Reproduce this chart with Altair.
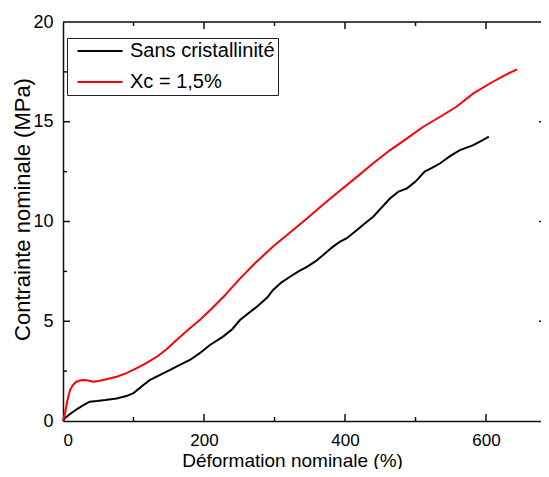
import altair as alt
import pandas as pd

# ---- data ----
black_x = [0, 3, 10, 20, 29, 38, 48, 60, 76, 90, 100, 114, 123, 137, 152, 165, 180, 194, 208,
           227, 240, 251, 263, 275, 290, 298, 310, 322, 334, 346, 358, 369, 383, 393, 402, 417,
           428, 440, 452, 464, 476, 488, 500, 513, 524, 535, 550, 563, 582, 594, 604]
black_y = [0, 0.15, 0.35, 0.6, 0.8, 0.97, 1.0, 1.05, 1.13, 1.25, 1.4, 1.8, 2.05, 2.3, 2.56, 2.8,
           3.06, 3.4, 3.8, 4.23, 4.6, 5.06, 5.4, 5.73, 6.2, 6.57, 6.95, 7.23, 7.5, 7.73, 8.0, 8.32,
           8.74, 8.99, 9.15, 9.57, 9.9, 10.24, 10.7, 11.16, 11.5, 11.66, 12.0, 12.5, 12.7, 12.92,
           13.3, 13.58, 13.83, 14.05, 14.25]

red_x = [0, 3, 6, 10, 14, 19, 25, 31, 37, 43, 50, 60, 76, 90, 104, 118, 133, 147, 161, 180, 194,
         210, 227, 250, 275, 298, 322, 346, 369, 393, 419, 440, 464, 488, 511, 535, 558, 582, 606,
         625, 644]
red_y = [0, 0.4, 1.0, 1.55, 1.8, 1.97, 2.04, 2.05, 2.02, 1.97, 2.0, 2.08, 2.22, 2.4, 2.64, 2.9,
         3.22, 3.6, 4.06, 4.65, 5.06, 5.6, 6.2, 7.1, 8.0, 8.75, 9.45, 10.15, 10.85, 11.55, 12.3,
         12.92, 13.58, 14.17, 14.75, 15.25, 15.75, 16.42, 16.93, 17.3, 17.63]

series_names = ["Sans cristallinité", "Xc = 1,5%"]
series_colors = ["#000000", "#ff0000"]

x_labels = [0, 200, 400, 600]
y_labels = [0, 5, 10, 15, 20]
x_major = [200, 400, 600]
x_minor = [100, 300, 500]
y_major = [5, 10, 15]
y_minor = [2.5, 7.5, 12.5, 17.5]

# ---- layout ----
W, H = 478, 399
X_MAX = 678
FONT = "Liberation Sans"
AX = "#111111"

df = pd.concat([
    pd.DataFrame({"x": black_x, "y": black_y, "s": series_names[0], "o": range(len(black_x))}),
    pd.DataFrame({"x": red_x, "y": red_y, "s": series_names[1], "o": range(len(red_x))}),
])

xs = alt.Scale(domain=[0, X_MAX], nice=False, zero=False)
ys = alt.Scale(domain=[0, 20], nice=False, zero=False)

lines = alt.Chart(df).mark_line(strokeWidth=2).encode(
    x=alt.X("x:Q", scale=xs, axis=alt.Axis(
        values=x_labels, title="Déformation nominale (%)", grid=False, ticks=False, tickSize=0,
        labelFontSize=17, labelPadding=11, labelFont=FONT, labelColor="#000",
        domainColor=AX, domainWidth=1.5,
        titleFontSize=19, titleFont=FONT, titleFontWeight="normal", titleColor="#000",
        titleX=229, titleY=45, titleBaseline="alphabetic", titleAnchor="middle")),
    y=alt.Y("y:Q", scale=ys, axis=alt.Axis(
        values=y_labels, title="Contrainte nominale (MPa)", grid=False, ticks=False, tickSize=0,
        labelFontSize=18, labelPadding=10, labelFont=FONT, labelColor="#000",
        domainColor=AX, domainWidth=1.5,
        titleFontSize=22, titleFont=FONT, titleFontWeight="normal", titleColor="#000",
        titleX=-41, titleY=187, titleBaseline="middle", titleAnchor="middle")),
    color=alt.Color("s:N", scale=alt.Scale(domain=series_names, range=series_colors),
                    legend=alt.Legend(
                        orient="none", legendX=4, legendY=16, title=None,
                        symbolType="M-0.33,0H5.67", symbolSize=225, symbolStrokeWidth=2,
                        labelFontSize=20, labelFont=FONT, labelColor="#000", labelOffset=40,
                        strokeColor="#222", fillColor="white", padding=3, rowPadding=11)),
    order="o:Q",
)


def xticks(vals, length, top):
    yc = length / 2 if top else H - length / 2
    return alt.Chart(pd.DataFrame({"v": vals})).mark_tick(
        color=AX, thickness=1.5, size=length, orient="vertical", opacity=1).encode(
        x=alt.X("v:Q", scale=xs), y=alt.value(yc))


def yticks(vals, length, right):
    xc = W - length / 2 if right else length / 2
    return alt.Chart(pd.DataFrame({"v": vals})).mark_tick(
        color=AX, thickness=1.5, size=length, orient="horizontal", opacity=1).encode(
        y=alt.Y("v:Q", scale=ys), x=alt.value(xc))


top_border = alt.Chart(pd.DataFrame({"v": [0]})).mark_rule(color=AX, strokeWidth=1.5).encode(
    x=alt.value(0), x2=alt.value(W), y=alt.value(0))

chart = alt.layer(
    xticks(x_major, 7, False), xticks(x_minor, 4, False),
    xticks(x_major, 7, True), xticks(x_minor, 4, True),
    yticks(y_major, 7, False), yticks(y_minor, 4, False),
    yticks(y_major, 2, True),
    top_border,
    lines,
).properties(
    width=W, height=H,
    autosize=alt.AutoSizeParams(type="none"),
    padding={"left": 55, "top": 14, "right": 0, "bottom": 48},
).configure_view(stroke=None).configure(font=FONT, background="white")

chart.save("out.html", embed_options={"renderer": "svg", "actions": False})
